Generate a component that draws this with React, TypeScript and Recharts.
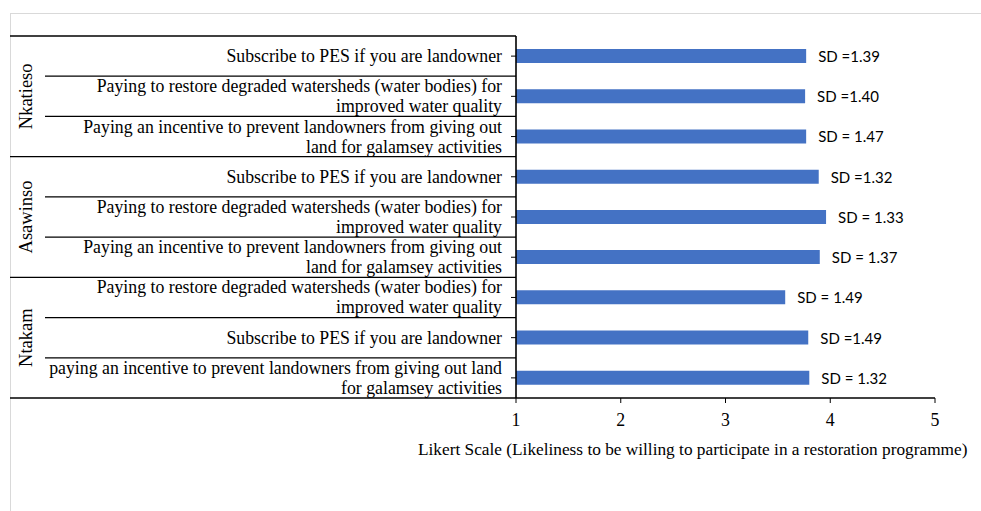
import React from 'react';
import { BarChart, Bar, XAxis, YAxis, LabelList, Label } from 'recharts';

const groups = ['Nkatieso', 'Asawinso', 'Ntakam'];
const categories = [
  'Subscribe to PES if you are landowner',
  'Paying to restore degraded watersheds (water bodies) for\nimproved water quality',
  'Paying an incentive to prevent landowners from giving out\nland for galamsey activities',
  'Subscribe to PES if you are landowner',
  'Paying to restore degraded watersheds (water bodies) for\nimproved water quality',
  'Paying an incentive to prevent landowners from giving out\nland for galamsey activities',
  'Paying to restore degraded watersheds (water bodies) for\nimproved water quality',
  'Subscribe to PES if you are landowner',
  'paying an incentive to prevent landowners from giving out land\nfor galamsey activities',
];
const means = [3.77, 3.76, 3.77, 3.89, 3.96, 3.9, 3.57, 3.79, 3.8];
const sdLabels = [
  'SD =1.39',
  'SD =1.40',
  'SD = 1.47',
  'SD =1.32',
  'SD = 1.33',
  'SD = 1.37',
  'SD = 1.49',
  'SD =1.49',
  'SD = 1.32',
];
const xTicks = [1, 2, 3, 4, 5];
const xDomain = [1, 5];
const xAxisTitle =
  'Likert Scale (Likeliness to be willing to participate in a restoration programme)';
const itemsPerGroup = 3;

const data = categories.map((c, i) => ({ idx: i, mean: means[i], sd: sdLabels[i] }));

const SERIF = '"Liberation Serif", "Times New Roman", serif';
const SANS = 'Lato, "Liberation Sans", sans-serif';
const SERIF_SIZE = 17.8;

const Y_TICK_SIZE = 5;
const Y_TICK_MARGIN = 9;

const CategoryTick = (props: any) => {
  const { x, y, payload } = props;
  const i = Number(payload.value);
  const half = payload.offset && payload.offset > 0 ? payload.offset : 20;
  const axisX = x + Y_TICK_SIZE + Y_TICK_MARGIN;
  const lines = categories[i].split('\n');
  const lh = 20;
  const startY = y - ((lines.length - 1) * lh) / 2;
  const top = y - half;
  const bottom = y + half;
  const isGroupEnd = (i + 1) % itemsPerGroup === 0;
  const isGroupMid = i % itemsPerGroup === Math.floor(itemsPerGroup / 2);
  return (
    <g>
      {i === 0 && (
        <line x1={10} x2={axisX} y1={top} y2={top} stroke="#000" strokeWidth={1.3} />
      )}
      <line
        x1={isGroupEnd ? 10 : 45}
        x2={axisX}
        y1={bottom}
        y2={bottom}
        stroke="#000"
        strokeWidth={1.3}
      />
      {lines.map((ln, k) => (
        <text
          key={k}
          x={x}
          y={startY + k * lh}
          textAnchor="end"
          dominantBaseline="central"
          fontFamily={SERIF}
          fontSize={SERIF_SIZE}
          fill="#000"
        >
          {ln}
        </text>
      ))}
      {isGroupMid && (
        <text
          x={26}
          y={y}
          transform={`rotate(-90, 26, ${y})`}
          textAnchor="middle"
          dominantBaseline="central"
          fontFamily={SERIF}
          fontSize={18.5}
          fill="#000"
        >
          {groups[Math.floor(i / itemsPerGroup)]}
        </text>
      )}
    </g>
  );
};

const SdLabel = (props: any) => {
  const { x, y, width, height, value } = props;
  return (
    <text
      x={x + width + 12}
      y={y + height / 2}
      dominantBaseline="central"
      fontFamily={SANS}
      fontSize={15}
      fill="#000"
    >
      {value}
    </text>
  );
};

const AxisTitle = (props: any) => {
  const vb = props.viewBox || {};
  return (
    <text
      x={vb.x - 98}
      y={455}
      textAnchor="start"
      fontFamily={SERIF}
      fontSize={17.3}
      fill="#000"
    >
      {xAxisTitle}
    </text>
  );
};

export default function App() {
  return (
    <div
      style={{
        position: 'absolute',
        left: 0,
        top: 0,
        width: 981,
        height: 511,
        background: '#fff',
        overflow: 'hidden',
      }}
    >
      <div
        style={{
          position: 'absolute',
          left: 10,
          top: 13,
          width: 971,
          height: 498,
          borderTop: '1px solid #d9d9d9',
          borderLeft: '1px solid #d9d9d9',
        }}
      />
      <div style={{ position: 'absolute', left: 0, top: 0 }}>
        <BarChart
          width={981}
          height={511}
          data={data}
          layout="vertical"
          margin={{ top: 36, right: 46, left: 0, bottom: 73 }}
          barSize={14}
        >
          <XAxis
            type="number"
            domain={xDomain}
            ticks={xTicks}
            allowDataOverflow
            axisLine={{ stroke: '#000', strokeWidth: 1.6 }}
            tickLine={{ stroke: '#000', strokeWidth: 1 }}
            tickSize={5}
            tickMargin={10}
            tick={{ fill: '#000', fontFamily: SERIF, fontSize: SERIF_SIZE }}
            height={40}
          >
            <Label content={AxisTitle} />
          </XAxis>
          <YAxis
            type="category"
            dataKey="idx"
            width={516}
            axisLine={{ stroke: '#000', strokeWidth: 1.6 }}
            tickLine={{ stroke: '#000', strokeWidth: 1 }}
            tickSize={Y_TICK_SIZE}
            tickMargin={Y_TICK_MARGIN}
            tick={<CategoryTick />}
            interval={0}
          />
          <Bar dataKey="mean" fill="#4472C4" isAnimationActive={false}>
            <LabelList dataKey="sd" content={SdLabel} />
          </Bar>
        </BarChart>
      </div>
    </div>
  );
}
